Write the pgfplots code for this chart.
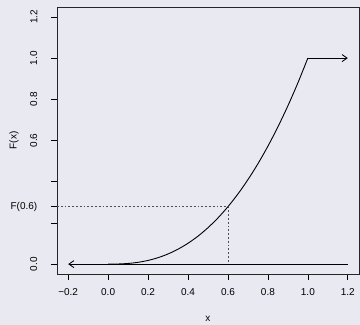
\documentclass[border=0pt]{standalone}
\usepackage{graphicx}
\usepackage{pgfplots}
\pgfplotsset{compat=1.18}
\usepackage{fontspec}
\setmainfont{Liberation Sans}
\usetikzlibrary{arrows.meta}
\definecolor{bg}{RGB}{233,233,242}
\definecolor{dotgray}{RGB}{80,80,80}
\newcommand{\rl}[1]{\rotatebox{90}{#1}}
\begin{document}
\fontsize{10pt}{12pt}\selectfont
\begin{tikzpicture}[x=1pt,y=1pt]
\fill[bg] (0,0) rectangle (360,325);
\useasboundingbox (0,0) rectangle (360,325);
\begin{axis}[
  scale only axis, width=302pt, height=267pt,
  at={(57pt,51pt)}, anchor=south west,
  xmin=-0.256, xmax=1.256, ymin=-0.048, ymax=1.248,
  axis line style={black!85, line width=0.7pt},
  tick style={black, line width=0.7pt},
  tick align=outside, major tick length=6pt,
  xtick pos=bottom, ytick pos=left,
  xtick={-0.2,0,0.2,0.4,0.6,0.8,1.0,1.2},
  xticklabels={−0.2,0.0,0.2,0.4,0.6,0.8,1.0,1.2},
  ytick={0,0.2,0.4,0.6,0.8,1.0,1.2},
  yticklabels={\rl{0.0},,,\rl{0.6},\rl{0.8},\rl{1.0},\rl{1.2}},
  extra y ticks={0.279}, extra y tick labels={F(0.6)},
  xticklabel style={anchor=base, inner sep=0pt, yshift=-16pt},
  yticklabel style={anchor=east, inner sep=0pt, xshift=-13.5pt},
  xlabel={x}, ylabel={F(x)},
  xlabel style={at={(axis description cs:0.5,-0.1685)}, anchor=center, inner sep=0pt},
  ylabel style={at={(axis description cs:-0.1424,0.5)}, anchor=center, rotate=0, inner sep=0pt},
  clip=false,
]
\addplot[dotgray, line width=0.8pt, dash pattern=on 1.8pt off 2pt] coordinates {(-0.256,0.279) (0.6,0.279) (0.6,0)};
\addplot[black, line width=0.85pt] coordinates {(0,0) (1.2,0)};
\addplot[black, line width=0.85pt, -{Straight Barb[length=5pt,width=7pt]}] coordinates {(0,0) (-0.2,0)};
\addplot[black, line width=0.85pt, -{Straight Barb[length=5pt,width=7pt]}] coordinates {(1,1) (1.2,1)};
\addplot[black, line width=0.9pt, smooth] coordinates {
(0,0) (0.05,0.0006) (0.1,0.0032) (0.15,0.0087) (0.2,0.0179) (0.25,0.0313)
(0.3,0.0493) (0.35,0.0725) (0.4,0.1012) (0.45,0.1358) (0.5,0.1768)
(0.55,0.2243) (0.6,0.2789) (0.65,0.3406) (0.7,0.41) (0.75,0.4871)
(0.8,0.5724) (0.85,0.6661) (0.9,0.7684) (0.95,0.8796) (1,1)};
\end{axis}
\end{tikzpicture}
\end{document}
